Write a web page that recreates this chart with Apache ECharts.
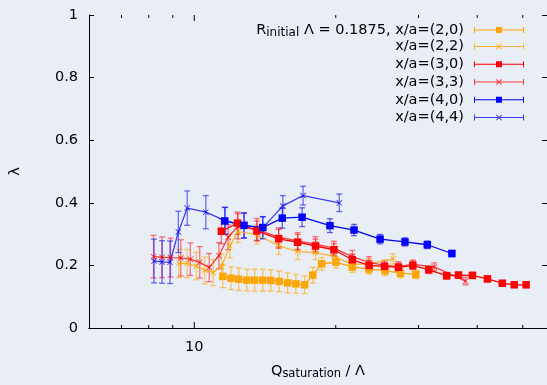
<!DOCTYPE html>
<html><head><meta charset="utf-8">
<script src="https://cdn.jsdelivr.net/npm/echarts@6/dist/echarts.min.js"></script>
<style>html,body{margin:0;padding:0;background:#e9edf5}#c{width:547px;height:385px}</style>
</head><body><div id="c"></div><script>
// ---- data ----
const names = ['x/a=(2,0)','x/a=(2,2)','x/a=(3,0)','x/a=(3,3)','x/a=(4,0)','x/a=(4,4)'];
const q20 = [11.50,11.97,12.43,12.94,13.44,13.99,14.55,15.16,15.80,16.45,17.17,17.87,18.67,20.01,21.69,23.53,25.46,27.47,29.61];
const l20 = [0.165,0.159,0.156,0.153,0.153,0.153,0.152,0.149,0.144,0.141,0.138,0.169,0.205,0.210,0.195,0.188,0.183,0.175,0.171];
const e20 = [0.036,0.036,0.036,0.035,0.035,0.035,0.034,0.033,0.032,0.030,0.028,0.025,0.020,0.018,0.017,0.016,0.015,0.014,0.013];
const q22 = [9.27,9.65,10.10,10.53,10.97,11.43,11.91,12.39,13.59,15.12,16.59,18.11,19.82,21.69,23.53,26.48];
const l22 = [0.206,0.206,0.198,0.184,0.177,0.197,0.262,0.308,0.298,0.263,0.244,0.241,0.229,0.203,0.205,0.221];
const e22 = [0.045,0.045,0.044,0.043,0.042,0.040,0.038,0.035,0.030,0.028,0.025,0.022,0.020,0.018,0.017,0.016];
const q30 = [11.42,12.36,13.59,15.12,16.59,18.11,19.82,21.69,23.55,25.40,27.20,29.18,31.55,34.43,36.50,39.08,42.05,45.22,47.95,50.83];
const l30 = [0.309,0.335,0.310,0.285,0.274,0.262,0.250,0.218,0.200,0.197,0.194,0.200,0.186,0.167,0.169,0.168,0.157,0.143,0.138,0.138];
const e30 = [0.040,0.035,0.032,0.030,0.025,0.022,0.020,0.018,0.015,0.014,0.013,0.013,0.012,0.011,0.010,0.010,0.010,0.008,0.007,0.006];
const q33 = [8.19,8.54,8.90,9.36,9.81,10.27,10.76,11.28,11.80,12.39,13.59,15.12,16.59,18.11,19.82,21.69,23.53,25.40,27.20,29.18,32.40,37.77];
const l33 = [0.228,0.226,0.225,0.224,0.220,0.210,0.193,0.231,0.290,0.325,0.315,0.290,0.278,0.268,0.255,0.228,0.210,0.200,0.197,0.203,0.195,0.150];
const e33 = [0.068,0.065,0.062,0.058,0.052,0.050,0.045,0.042,0.040,0.040,0.035,0.030,0.027,0.024,0.022,0.020,0.018,0.016,0.015,0.014,0.013,0.012];
const q40 = [11.61,12.76,13.99,15.39,16.96,19.44,21.87,24.85,28.07,31.32,35.33];
const l40 = [0.342,0.328,0.321,0.351,0.354,0.327,0.313,0.284,0.275,0.266,0.238];
const e40 = [0.043,0.040,0.035,0.032,0.030,0.022,0.018,0.015,0.013,0.012,0.010];
const q44 = [8.21,8.54,8.88,9.25,9.66,10.58,11.63,12.76,13.99,15.43,17.04,20.35];
const l44 = [0.214,0.211,0.210,0.307,0.383,0.370,0.343,0.327,0.320,0.390,0.423,0.400];
const e44 = [0.070,0.068,0.068,0.066,0.055,0.053,0.043,0.040,0.035,0.033,0.030,0.028];
const xTickValues = [7,8,9,10,20,30,40,50];
const xTickLabels = ['','','','10','','','',''];

// ---- styles ----
const FONT = 'DejaVu Sans';
const FS = 14.5;
const lineColors = ['#ffa500','rgba(255,165,0,0.8)','#ff0000','rgba(255,0,0,0.75)','#0000ff','rgba(0,0,255,0.75)'];
const errColors = ['rgba(255,165,0,0.6)','rgba(255,165,0,0.55)','rgba(255,0,0,0.55)','rgba(255,0,0,0.5)','rgba(0,0,255,0.6)','rgba(0,0,255,0.55)'];
const CROSS = 'path://M0,1 L1,0 L5,4 L9,0 L10,1 L6,5 L10,9 L9,10 L5,6 L1,10 L0,9 L4,5 Z';
const ICON_SQ = 'path://M0,4.5 H50 V5.5 H0 Z M0,2 H1 V8 H0 Z M49,2 H50 V8 H49 Z M22,2 H28 V8 H22 Z';
const ICON_X = 'path://M0,4.5 H50 V5.5 H0 Z M0,2 H1 V8 H0 Z M49,2 H50 V8 H49 Z M22,2.7 L22.7,2 L25,4.3 L27.3,2 L28,2.7 L25.7,5 L28,7.3 L27.3,8 L25,5.7 L22.7,8 L22,7.3 L24.3,5 Z';

const sets = [[q20,l20,e20],[q22,l22,e22],[q30,l30,e30],[q33,l33,e33],[q40,l40,e40],[q44,l44,e44]];
const isCross = [false,true,false,true,false,true];

function errRender(color){
  return function(params, api){
    const x = api.value(0), lo = api.value(1), hi = api.value(2);
    const p1 = api.coord([x, lo]), p2 = api.coord([x, hi]);
    const w = 3, st = {stroke: color, lineWidth: 1.3};
    return {type:'group', children:[
      {type:'line', shape:{x1:p1[0],y1:p1[1],x2:p2[0],y2:p2[1]}, style:st},
      {type:'line', shape:{x1:p1[0]-w,y1:p1[1],x2:p1[0]+w,y2:p1[1]}, style:st},
      {type:'line', shape:{x1:p2[0]-w,y1:p2[1],x2:p2[0]+w,y2:p2[1]}, style:st}
    ]};
  };
}

const series = [];
sets.forEach(function(s, i){
  const q = s[0], l = s[1], e = s[2];
  series.push({
    type:'custom', name: names[i] + ' err', xAxisIndex:0, yAxisIndex:0,
    renderItem: errRender(errColors[i]), encode:{x:0, y:[1,2]}, z: 1, silent:true,
    data: q.map(function(v, k){ return [v, l[k]-e[k], l[k]+e[k]]; })
  });
});
sets.forEach(function(s, i){
  const q = s[0], l = s[1];
  series.push({
    type:'line', name: names[i], xAxisIndex:0, yAxisIndex:0, z: 3,
    data: q.map(function(v, k){ return [v, l[k]]; }),
    symbol: isCross[i] ? CROSS : 'rect', symbolSize: isCross[i] ? 6 : 7.5,
    showAllSymbol: true,
    lineStyle:{color: lineColors[i], width: 1.3},
    itemStyle:{color: lineColors[i]},
    emphasis:{disabled:true}
  });
});
// x ticks through the log scale
series.push({
  type:'custom', xAxisIndex:0, yAxisIndex:0, silent:true, clip:false, z: 5,
  encode:{x:0, y:1},
  data: xTickValues.map(function(v, k){ return [v, 0, k]; }),
  renderItem: function(params, api){
    const v = api.value(0), k = api.value(2);
    const lab = xTickLabels[k];
    const b = api.coord([v, 0]), t = api.coord([v, 1]);
    const len = lab ? 6 : 3;
    const st = {stroke:'#000', lineWidth:1};
    const ch = [
      {type:'line', shape:{x1:b[0],y1:b[1],x2:b[0],y2:b[1]-len}, style:st},
      {type:'line', shape:{x1:t[0],y1:t[1],x2:t[0],y2:t[1]+len}, style:st}
    ];
    if (lab) ch.push({type:'text', x:b[0], y:b[1]+19, style:{text:lab, fill:'#000', font:FS+'px "'+FONT+'"', textAlign:'center', textVerticalAlign:'middle'}});
    return {type:'group', children: ch};
  }
});

const xCommon = {type:'log', logBase:10, min:5.97, max:56.3, splitLine:{show:false},
  axisTick:{show:false}, axisLabel:{show:false}, axisLine:{show:true, lineStyle:{color:'#000', width:1}}};

const option = {
  animation:false,
  backgroundColor:'#e9edf5',
  textStyle:{fontFamily:FONT},
  grid:{left:86, right:0, top:15, bottom:55},
  xAxis:[
    Object.assign({}, xCommon, {position:'bottom',
      name:'{t|Q}{s|saturation}{t| / Λ}', nameLocation:'middle', nameGap:34,
      nameTextStyle:{rich:{t:{fontSize:FS, fontFamily:FONT, color:'#000', lineHeight:18}, s:{fontSize:11.5, fontFamily:FONT, color:'#000', verticalAlign:'bottom', lineHeight:12}}}}),
    Object.assign({}, xCommon, {position:'top'})
  ],
  yAxis:[
    {type:'value', min:0, max:1, interval:0.2, position:'left',
     axisLine:{show:true, lineStyle:{color:'#000', width:1}},
     axisTick:{show:true, inside:true, length:5, lineStyle:{color:'#000'}},
     axisLabel:{color:'#000', fontSize:FS, fontFamily:FONT, margin:11},
     splitLine:{show:false},
     name:'λ', nameLocation:'middle', nameGap:66, nameRotate:90,
     nameTextStyle:{color:'#000', fontSize:FS, fontFamily:FONT}},
    {type:'value', min:0, max:1, interval:0.2, position:'right',
     axisLine:{show:false}, axisTick:{show:true, inside:true, length:5, lineStyle:{color:'#000'}},
     axisLabel:{show:false}, splitLine:{show:false}}
  ],
  legend:[
    {data:[{name:names[0], icon:ICON_SQ}], orient:'vertical', right:18, top:16, align:'right',
     itemWidth:50, itemHeight:10, itemGap:0, selectedMode:false,
     textStyle:{color:'#000', fontSize:FS, fontFamily:FONT, lineHeight:18, padding:[0,5,0,0],
       rich:{t:{fontSize:FS, fontFamily:FONT, color:'#000', lineHeight:18}, s:{fontSize:12, fontFamily:FONT, color:'#000', verticalAlign:'bottom', lineHeight:13}}},
     formatter:function(n){ return '{t|R}{s|initial}{t| Λ = 0.1875, ' + n + '}'; }},
    {data:[
       {name:names[1], icon:ICON_X},{name:names[2], icon:ICON_SQ},{name:names[3], icon:ICON_X},
       {name:names[4], icon:ICON_SQ},{name:names[5], icon:ICON_X}],
     orient:'vertical', right:18, top:32.5, align:'right',
     itemWidth:50, itemHeight:10, itemGap:0, selectedMode:false,
     textStyle:{color:'#000', fontSize:FS, fontFamily:FONT, lineHeight:17.8, padding:[0,5,0,0]}}
  ],
  series: series
};
const chart = echarts.init(document.getElementById('c'), null, {renderer:'canvas'});
chart.setOption(option);
</script></body></html>
